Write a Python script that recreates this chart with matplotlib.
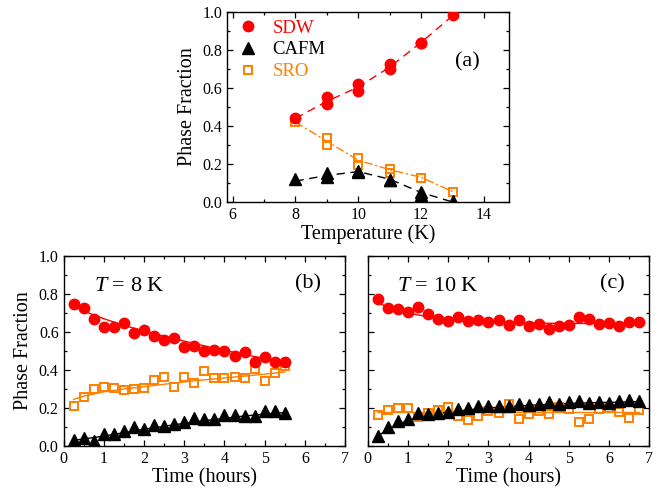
import numpy as np
import matplotlib
matplotlib.use('Agg')
import matplotlib.pyplot as plt
from matplotlib.ticker import MultipleLocator

plt.rcParams['font.family'] = 'Liberation Serif'
plt.rcParams['mathtext.fontset'] = 'custom'
plt.rcParams['mathtext.rm'] = 'Liberation Serif'
plt.rcParams['mathtext.it'] = 'Liberation Serif:italic'

RED = '#ff0000'
ORANGE = '#ff7f00'
BLACK = '#000000'

# (a) phase fraction vs temperature
T_a = [8, 9, 9, 10, 10, 11, 11, 12, 12, 13]
sdw_a = [0.442, 0.551, 0.516, 0.621, 0.586, 0.727, 0.70, 0.836, 0.836, 0.982]
cafm_a = [0.12, 0.155, 0.134, 0.165, 0.158, 0.116, 0.116, 0.055, 0.035, 0.005]
sro_a = [0.419, 0.336, 0.301, 0.234, 0.195, 0.176, 0.15, 0.128, 0.128, 0.053]
# guide lines in (a)
T_fit_a = [8, 9, 10, 11, 12, 13]
sdw_fit_a = [0.44, 0.53, 0.605, 0.71, 0.84, 0.98]
cafm_fit_a = [0.11, 0.14, 0.16, 0.12, 0.05, 0.0]
sro_fit_a = [0.42, 0.32, 0.22, 0.17, 0.13, 0.055]

# (b) T = 8 K, time evolution
t_b = [0.25, 0.5, 0.75, 1.0, 1.25, 1.5, 1.75, 2.0, 2.25, 2.5, 2.75,
       3.0, 3.25, 3.5, 3.75, 4.0, 4.25, 4.5, 4.75, 5.0, 5.25, 5.5]
sdw_b = [0.746, 0.725, 0.667, 0.628, 0.625, 0.646, 0.596, 0.609, 0.581, 0.556, 0.567,
         0.519, 0.526, 0.50, 0.504, 0.498, 0.475, 0.495, 0.442, 0.468, 0.444, 0.44]
sro_b = [0.211, 0.26, 0.298, 0.309, 0.304, 0.296, 0.302, 0.305, 0.346, 0.363, 0.311,
         0.363, 0.333, 0.395, 0.36, 0.358, 0.361, 0.36, 0.404, 0.342, 0.386, 0.419]
cafm_b = [0.03, 0.042, 0.025, 0.061, 0.065, 0.077, 0.10, 0.088, 0.11, 0.107, 0.114,
          0.126, 0.147, 0.14, 0.14, 0.165, 0.161, 0.158, 0.16, 0.184, 0.182, 0.174]
t_fit_b = [0.25, 0.5, 1.0, 1.5, 2.0, 2.5, 3.0, 3.5, 4.0, 4.5, 5.0, 5.5]
sdw_fit_b = [0.735, 0.71, 0.67, 0.635, 0.605, 0.578, 0.552, 0.527, 0.503, 0.481, 0.461, 0.445]
sro_fit_b = [0.245, 0.262, 0.285, 0.30, 0.312, 0.325, 0.337, 0.348, 0.358, 0.368, 0.378, 0.39]
cafm_fit_b = [0.03, 0.037, 0.052, 0.07, 0.088, 0.104, 0.119, 0.133, 0.146, 0.158, 0.168, 0.176]

# (c) T = 10 K, time evolution
t_c = [0.25, 0.5, 0.75, 1.0, 1.25, 1.5, 1.75, 2.0, 2.25, 2.5, 2.75, 3.0, 3.25, 3.5,
       3.75, 4.0, 4.25, 4.5, 4.75, 5.0, 5.25, 5.5, 5.75, 6.0, 6.25, 6.5, 6.75]
sdw_c = [0.772, 0.726, 0.723, 0.704, 0.732, 0.696, 0.67, 0.656, 0.679, 0.66, 0.665, 0.654,
         0.661, 0.639, 0.665, 0.633, 0.642, 0.618, 0.63, 0.635, 0.681, 0.668, 0.644,
         0.647, 0.632, 0.651, 0.651]
sro_c = [0.161, 0.188, 0.202, 0.202, 0.151, 0.174, 0.19, 0.207, 0.158, 0.139, 0.156, 0.186,
         0.172, 0.219, 0.14, 0.167, 0.184, 0.167, 0.207, 0.193, 0.126, 0.144, 0.193,
         0.198, 0.177, 0.147, 0.191]
cafm_c = [0.051, 0.10, 0.132, 0.144, 0.174, 0.17, 0.172, 0.179, 0.195, 0.198, 0.209, 0.211,
          0.211, 0.211, 0.219, 0.218, 0.223, 0.232, 0.219, 0.23, 0.235, 0.225, 0.232,
          0.228, 0.237, 0.242, 0.235]
t_fit_c = [0.25, 0.5, 1.0, 1.5, 2.0, 2.5, 3.0, 4.0, 5.0, 6.0, 6.75]
sdw_fit_c = [0.755, 0.73, 0.70, 0.68, 0.667, 0.658, 0.652, 0.647, 0.645, 0.645, 0.645]
sro_fit_c = [0.178] * len(t_fit_c)
cafm_fit_c = [0.05, 0.09, 0.135, 0.16, 0.178, 0.19, 0.20, 0.214, 0.224, 0.23, 0.233]


def style_axes(ax, xmaj, xmin, labels_y=True):
    ax.xaxis.set_major_locator(MultipleLocator(xmaj))
    ax.xaxis.set_minor_locator(MultipleLocator(xmin))
    ax.yaxis.set_major_locator(MultipleLocator(0.2))
    ax.yaxis.set_minor_locator(MultipleLocator(0.1))
    ax.tick_params(which='both', direction='in', top=True, right=True, labelsize=11.5)
    ax.tick_params(which='major', length=4, width=0.9)
    ax.tick_params(which='minor', length=2.5, width=0.9)
    ax.yaxis.set_major_formatter(plt.FormatStrFormatter('%.1f'))
    if not labels_y:
        ax.tick_params(labelleft=False)
    for s in ax.spines.values():
        s.set_linewidth(1.0)


def draw_points(ax, x, sdw, cafm, sro, ms=7.5):
    ax.plot(x, sdw, 'o', color=RED, ms=ms, mec=RED, label='SDW', zorder=4)
    ax.plot(x, cafm, '^', color=BLACK, ms=ms + 0.8, label='CAFM', zorder=4)
    ax.plot(x, sro, 's', mfc='none', mec=ORANGE, mew=1.4, ms=ms - 1.6, label='SRO', zorder=3)


fig = plt.figure(figsize=(6.72, 4.94), dpi=100)
ax_a = fig.add_axes([0.3383, 0.5911, 0.4192, 0.3846])
ax_b = fig.add_axes([0.0945, 0.0972, 0.4192, 0.3846])
ax_c = fig.add_axes([0.5472, 0.0972, 0.4192, 0.3846])

# (a)
ax_a.plot(T_fit_a, sdw_fit_a, '--', color=RED, lw=1.0, dashes=(6, 4))
ax_a.plot(T_fit_a, cafm_fit_a, '--', color=BLACK, lw=1.0, dashes=(6, 4))
ax_a.plot(T_fit_a, sro_fit_a, '-.', color=ORANGE, lw=1.0, dashes=(6, 2, 1.5, 2))
draw_points(ax_a, T_a, sdw_a, cafm_a, sro_a)
ax_a.set_xlim(5.83, 14.8)
ax_a.set_ylim(0, 1.0)
style_axes(ax_a, 2, 1)
ax_a.set_xlabel('Temperature (K)', fontsize=14.5, labelpad=1)
ax_a.set_ylabel('Phase Fraction', fontsize=14.5, labelpad=4)
leg = ax_a.legend(loc='upper left', frameon=False, fontsize=13.5, handlelength=1.0,
                  handletextpad=0.8, labelspacing=0.25, borderaxespad=0.2,
                  bbox_to_anchor=(0.0, 1.02), labelcolor=[RED, BLACK, ORANGE])
ax_a.text(0.851, 0.737, '(a)', transform=ax_a.transAxes, fontsize=16,
          ha='center', va='center')

# (b)
ax_b.plot(t_fit_b, sdw_fit_b, '-', color=RED, lw=1.0)
ax_b.plot(t_fit_b, sro_fit_b, '-', color=ORANGE, lw=1.0)
ax_b.plot(t_fit_b, cafm_fit_b, '-', color=BLACK, lw=1.0)
draw_points(ax_b, t_b, sdw_b, cafm_b, sro_b)
ax_b.set_xlim(0, 7)
ax_b.set_ylim(0, 1.0)
style_axes(ax_b, 1, 0.5)
ax_b.set_xlabel('Time (hours)', fontsize=14.5, labelpad=1)
ax_b.set_ylabel('Phase Fraction', fontsize=14.5, labelpad=4)
ax_b.text(0.232, 0.842, '$T$ = 8 K', transform=ax_b.transAxes, fontsize=16,
          ha='center', va='center')
ax_b.text(0.867, 0.855, '(b)', transform=ax_b.transAxes, fontsize=16,
          ha='center', va='center')

# (c)
ax_c.plot(t_fit_c, sdw_fit_c, '-', color=RED, lw=1.0)
ax_c.plot(t_fit_c, sro_fit_c, '-', color=ORANGE, lw=1.0)
ax_c.plot(t_fit_c, cafm_fit_c, '-', color=BLACK, lw=1.0)
draw_points(ax_c, t_c, sdw_c, cafm_c, sro_c)
ax_c.set_xlim(0, 7)
ax_c.set_ylim(0, 1.0)
style_axes(ax_c, 1, 0.5, labels_y=False)
ax_c.set_xlabel('Time (hours)', fontsize=14.5, labelpad=1)
ax_c.text(0.25, 0.842, '$T$ = 10 K', transform=ax_c.transAxes, fontsize=16,
          ha='center', va='center')
ax_c.text(0.868, 0.855, '(c)', transform=ax_c.transAxes, fontsize=16,
          ha='center', va='center')

fig.savefig('out.png', dpi=100)
